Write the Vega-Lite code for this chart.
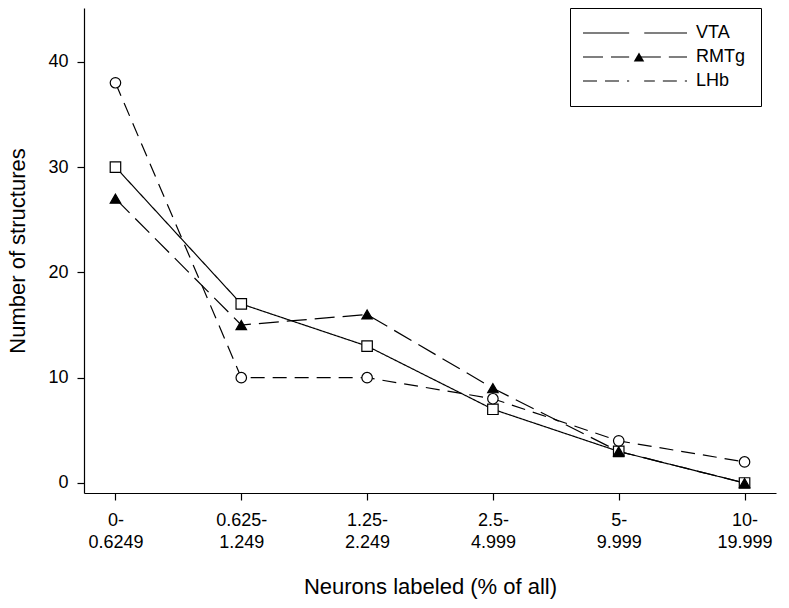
{
  "$schema": "https://vega.github.io/schema/vega-lite/v6.json",
  "width": 692,
  "height": 485,
  "autosize": "none",
  "padding": {"left": 84, "top": 8, "right": 13, "bottom": 115},
  "background": "white",
  "data": {
    "values": [
      {"bin": "0-0.6249", "series": "VTA", "count": 30},
      {"bin": "0.625-1.249", "series": "VTA", "count": 17},
      {"bin": "1.25-2.249", "series": "VTA", "count": 13},
      {"bin": "2.5-4.999", "series": "VTA", "count": 7},
      {"bin": "5-9.999", "series": "VTA", "count": 3},
      {"bin": "10-19.999", "series": "VTA", "count": 0},
      {"bin": "0-0.6249", "series": "RMTg", "count": 27},
      {"bin": "0.625-1.249", "series": "RMTg", "count": 15},
      {"bin": "1.25-2.249", "series": "RMTg", "count": 16},
      {"bin": "2.5-4.999", "series": "RMTg", "count": 9},
      {"bin": "5-9.999", "series": "RMTg", "count": 3},
      {"bin": "10-19.999", "series": "RMTg", "count": 0},
      {"bin": "0-0.6249", "series": "LHb", "count": 38},
      {"bin": "0.625-1.249", "series": "LHb", "count": 10},
      {"bin": "1.25-2.249", "series": "LHb", "count": 10},
      {"bin": "2.5-4.999", "series": "LHb", "count": 8},
      {"bin": "5-9.999", "series": "LHb", "count": 4},
      {"bin": "10-19.999", "series": "LHb", "count": 2}
    ]
  },
  "encoding": {
    "x": {
      "field": "bin",
      "type": "nominal",
      "sort": null,
      "scale": {"type": "point", "padding": 0.25},
      "axis": {
        "title": "Neurons labeled (% of all)",
        "labelAngle": 0,
        "labelExpr": "[split(datum.value,'-')[0] + '-', split(datum.value,'-')[1]]",
        "labelLineHeight": 22,
        "labelPadding": 11,
        "labelFontSize": 18,
        "tickSize": 7,
        "titleFontSize": 22,
        "titlePadding": 25
      }
    },
    "y": {
      "field": "count",
      "type": "quantitative",
      "scale": {"domain": [-0.95, 45.1], "nice": false, "zero": false},
      "axis": {
        "title": "Number of structures",
        "values": [0, 10, 20, 30, 40],
        "labelFontSize": 18,
        "tickSize": 7,
        "labelPadding": 9,
        "titleFontSize": 22,
        "titlePadding": 18
      }
    }
  },
  "layer": [
    {
      "mark": {"type": "line", "color": "black", "strokeWidth": 1.2},
      "encoding": {
        "detail": {"field": "series"},
        "strokeDash": {
          "field": "series",
          "type": "nominal",
          "sort": ["VTA", "RMTg", "LHb"],
          "scale": {"range": [[1, 0], [20, 8], [14, 8]]},
          "legend": {
            "title": null,
            "orient": "none",
            "legendX": 486,
            "legendY": 0,
            "symbolType": "M-8,0H-0.9M0.9,0H8",
            "symbolSize": 169,
            "symbolOffset": 40,
            "symbolStrokeColor": "black",
            "symbolStrokeWidth": 1.2,
            "labelOffset": 52,
            "labelFontSize": 18,
            "rowPadding": 6,
            "padding": 16,
            "strokeColor": "black"
          }
        }
      }
    },
    {
      "mark": {"type": "point", "filled": true, "stroke": "black", "strokeWidth": 1.2, "opacity": 1, "size": 110},
      "encoding": {
        "shape": {
          "field": "series",
          "type": "nominal",
          "scale": {"domain": ["VTA", "RMTg", "LHb"], "range": ["square", "triangle-up", "circle"]},
          "legend": {
            "title": null,
            "orient": "none",
            "legendX": 486,
            "legendY": 0,
            "symbolOffset": 44,
            "symbolSize": 110,
            "symbolStrokeColor": "black",
            "symbolStrokeWidth": 1.2,
            "symbolOpacity": 1,
            "labelOffset": 52,
            "labelFontSize": 18,
            "labelOpacity": 0,
            "labelExpr": "' '",
            "rowPadding": 6,
            "padding": 16,
            "encode": {
              "symbols": {
                "fill": {"value": "black"},
                "shape": {"value": {"expr": "datum.value === 'RMTg' ? 'triangle-up' : (datum.value === 'VTA' ? 'M-1,-1H1V1H-1ZM-0.77,-0.77V0.77H0.77V-0.77Z' : 'M-1.1,0A1.1,1.1 0 1,0 1.1,0A1.1,1.1 0 1,0 -1.1,0ZM-0.87,0A0.87,0.87 0 1,1 0.87,0A0.87,0.87 0 1,1 -0.87,0Z')"}},
                "opacity": {"value": 1}
              }
            }
          }
        },
        "fill": {
          "field": "series",
          "type": "nominal",
          "scale": {"domain": ["VTA", "RMTg", "LHb"], "range": ["white", "black", "white"]},
          "legend": null
        }
      }
    }
  ],
  "config": {
    "view": {"stroke": null},
    "font": "Liberation Sans",
    "axis": {
      "grid": false,
      "domainColor": "black",
      "tickColor": "black",
      "labelColor": "black",
      "titleColor": "black",
      "titleFontWeight": "normal",
      "labelFont": "Liberation Sans",
      "titleFont": "Liberation Sans",
      "domainWidth": 1.2,
      "tickWidth": 1.2
    },
    "legend": {
      "labelFont": "Liberation Sans",
      "labelColor": "black"
    }
  }
}
